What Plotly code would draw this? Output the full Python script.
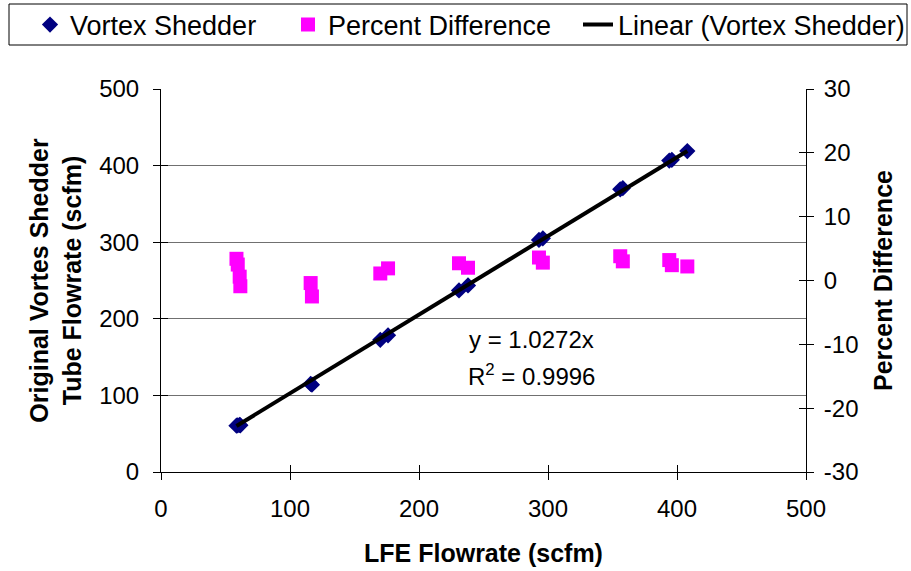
import plotly.graph_objects as go

# LFE reference flowrate (scfm)
lfe_flow = [58.5, 59.5, 61, 61.5, 116, 117, 170, 176, 231, 238, 293, 296, 356, 358, 394, 396, 408]
# Vortex shedder tube flowrate (scfm)
vortex_flow = [60.5, 61, 61.5, 61, 115, 114, 172.5, 178.5, 237, 243.5, 303, 305, 369, 370.5, 406.5, 407.5, 419]
# Percent difference between the two meters
pct_diff = [3.4, 2.5, 0.6, -0.9, -0.4, -2.5, 1.1, 1.9, 2.7, 2.0, 3.6, 2.8, 3.8, 3.0, 3.2, 2.4, 2.2]

# Tick labels
left_ticks = [0, 100, 200, 300, 400, 500]
right_ticks = [-30, -20, -10, 0, 10, 20, 30]
right_tick_text = ["-30", "-20", "-10", "0", "10", "20", "30"]

slope = 1.0272
r_squared = 0.9996
fit_x = [min(lfe_flow), max(lfe_flow)]
fit_y = [slope * v for v in fit_x]

FONT = "Liberation Sans, Arial, sans-serif"
GRID = "#707070"
TICK_SIZE = 24
TITLE_SIZE = 25
LEGEND_SIZE = 27

# plot-area placement in pixels
L, R, T, B = 161, 105, 89, 99
PLOT_W, PLOT_H = 911 - L - R, 571 - T - B

fig = go.Figure()

fig.add_trace(go.Scatter(
    x=lfe_flow, y=vortex_flow, mode="markers", name="Vortex Shedder", legend="legend",
    marker=dict(symbol="diamond", size=12.5, color="#000080"),
))
fig.add_trace(go.Scatter(
    x=lfe_flow, y=pct_diff, mode="markers", name="Percent Difference", yaxis="y2", legend="legend2",
    marker=dict(symbol="square", size=14, color="#FF00FF"),
))
fig.add_trace(go.Scatter(
    x=fit_x, y=fit_y, mode="lines", name="Linear (Vortex Shedder)", legend="legend3",
    line=dict(color="black", width=4),
))

# dummy traces to attach the overlay axes that draw the inner tick halves
fig.add_trace(go.Scatter(x=[None], y=[None], xaxis="x3", yaxis="y3", showlegend=False, hoverinfo="skip"))
fig.add_trace(go.Scatter(x=[None], y=[None], xaxis="x", yaxis="y4", showlegend=False, hoverinfo="skip"))

axis_common = dict(
    showline=True, linecolor="black", linewidth=1,
    ticks="outside", ticklen=7, tickcolor="black", tickwidth=1,
    tickfont=dict(family=FONT, size=TICK_SIZE, color="black"),
    zeroline=False,
)
inner_ticks = dict(ticks="inside", ticklen=7, tickcolor="black", tickwidth=1,
                   showticklabels=False, showgrid=False, zeroline=False, showline=False)


def legend_at(left_px):
    return dict(
        x=(left_px - L) / PLOT_W, y=1 + (T - 25) / PLOT_H, xanchor="left", yanchor="middle",
        orientation="h", font=dict(family=FONT, size=LEGEND_SIZE, color="black"),
        bgcolor="rgba(0,0,0,0)", borderwidth=0, itemclick=False, itemdoubleclick=False,
    )


fig.update_layout(
    width=911, height=571,
    margin=dict(l=L, r=R, t=T, b=B, autoexpand=False),
    paper_bgcolor="white", plot_bgcolor="white",
    font=dict(family=FONT, size=TICK_SIZE, color="black"),
    xaxis=dict(
        range=[0, 500], tickvals=left_ticks, showgrid=False, ticklabelstandoff=8, **axis_common,
        title=dict(text="<b>LFE Flowrate (scfm)</b>", font=dict(family=FONT, size=TITLE_SIZE), standoff=23),
    ),
    yaxis=dict(
        range=[0, 500], tickvals=left_ticks, showgrid=True, gridcolor=GRID, gridwidth=1,
        ticklabelstandoff=9, **axis_common,
        title=dict(text="<b>Original Vortes Shedder<br>Tube Flowrate (scfm)</b>",
                   font=dict(family=FONT, size=TITLE_SIZE), standoff=10),
    ),
    yaxis2=dict(
        range=[-30, 30], tickvals=right_ticks, ticktext=right_tick_text,
        overlaying="y", side="right", showgrid=False, ticklabelstandoff=5, **axis_common,
        title=dict(text="<b>Percent Difference</b>", font=dict(family=FONT, size=TITLE_SIZE), standoff=17),
    ),
    xaxis3=dict(range=[0, 500], tickvals=left_ticks, overlaying="x", anchor="y", **inner_ticks),
    yaxis3=dict(range=[0, 500], tickvals=left_ticks, overlaying="y", anchor="x", **inner_ticks),
    yaxis4=dict(range=[-30, 30], tickvals=right_ticks, overlaying="y", side="right", anchor="x",
                **inner_ticks),
    showlegend=True,
    legend=legend_at(30),
    legend2=legend_at(288),
    legend3=legend_at(578),
    shapes=[dict(
        type="rect", xref="paper", yref="paper",
        x0=(9 - L) / PLOT_W, x1=(907 - L) / PLOT_W,
        y0=1 + (T - 45) / PLOT_H, y1=1 + (T - 4) / PLOT_H,
        line=dict(color="black", width=1), fillcolor="rgba(0,0,0,0)", layer="below",
    )],
    annotations=[
        dict(text=f"y = {slope}x", x=287, y=173, xref="x", yref="y", showarrow=False,
             font=dict(family=FONT, size=TICK_SIZE)),
        dict(text=f"R<sup>2</sup> = {r_squared}", x=287, y=127, xref="x", yref="y", showarrow=False,
             font=dict(family=FONT, size=TICK_SIZE)),
    ],
)

fig.write_html("out.html")
